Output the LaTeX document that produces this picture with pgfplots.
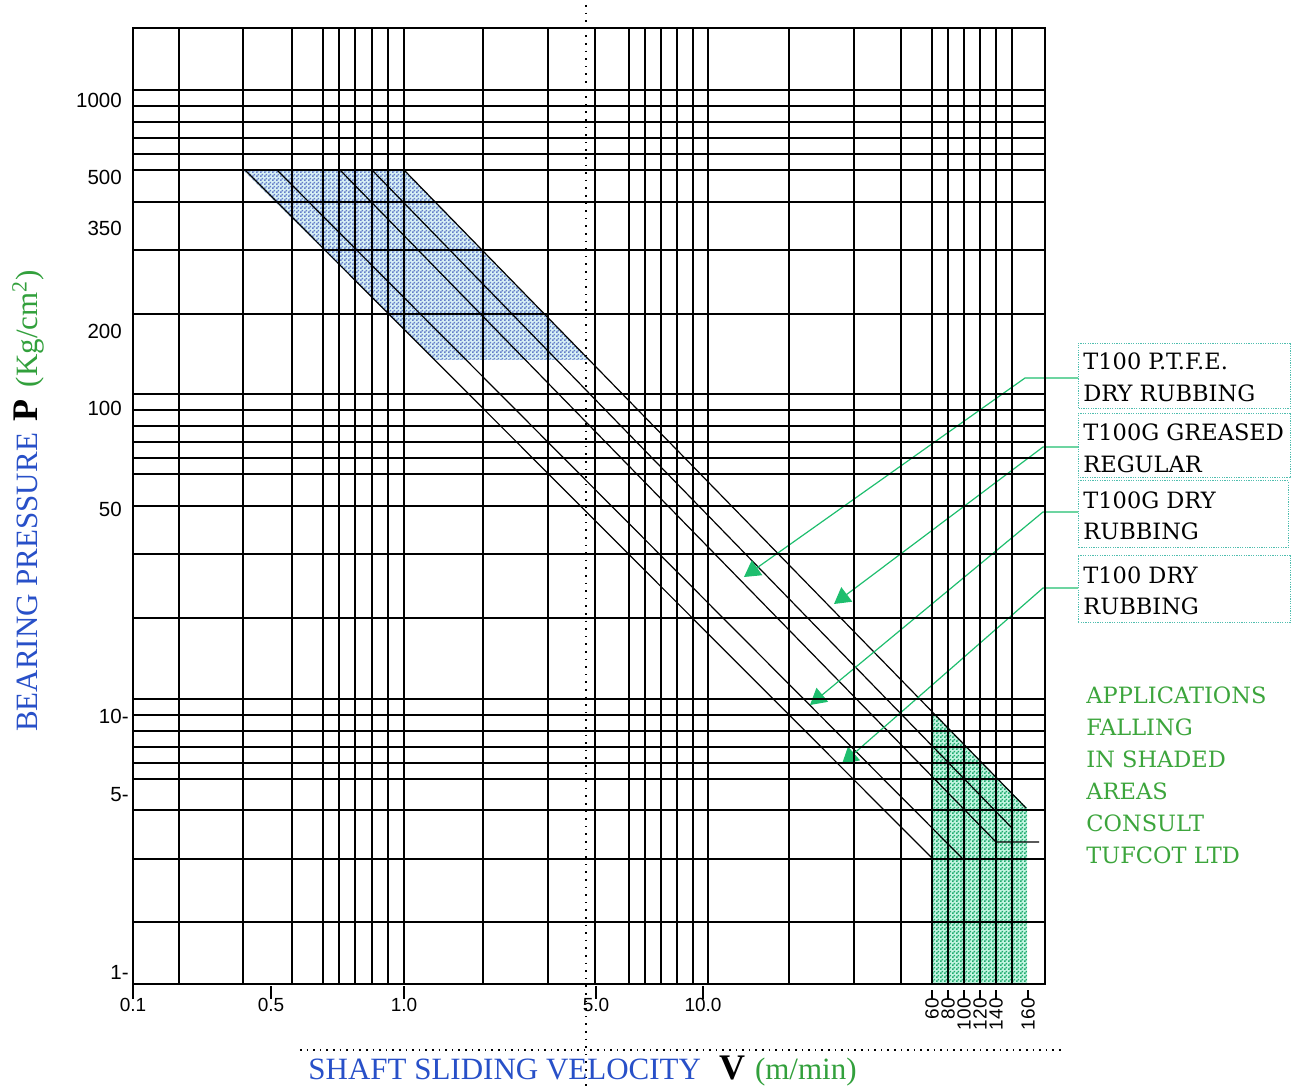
\documentclass[border=0pt]{standalone}
\usepackage{fontspec}
\setmainfont{Liberation Serif}
\newfontfamily\tickfont{Liberation Sans}
\newfontfamily\boxfont{DejaVu Serif}
\usepackage{pgfplots}
\pgfplotsset{compat=1.18}
\usetikzlibrary{arrows.meta,patterns}

\pgfdeclarepatternformonly{finecheck}{\pgfpointorigin}{\pgfpoint{2pt}{2pt}}{\pgfpoint{2pt}{2pt}}{%
  \pgfpathrectangle{\pgfpointorigin}{\pgfpoint{1pt}{1pt}}%
  \pgfpathrectangle{\pgfpoint{1pt}{1pt}}{\pgfpoint{1pt}{1pt}}%
  \pgfusepath{fill}}

\definecolor{bluetxt}{RGB}{40,80,200}
\definecolor{greentxt}{RGB}{50,160,60}
\definecolor{greenlbl}{RGB}{60,165,60}
\definecolor{arrowgreen}{RGB}{30,190,110}
\definecolor{boxteal}{RGB}{80,190,175}
\definecolor{bluechk}{RGB}{100,125,200}
\definecolor{bluebase}{RGB}{215,240,245}
\definecolor{greenchk}{RGB}{30,170,110}
\definecolor{greenbase}{RGB}{195,245,225}

\begin{document}
\begin{tikzpicture}
\begin{axis}[
  scale only axis, width=456pt, height=478pt,
  xmin=133, xmax=1045, ymin=105, ymax=1061,
  enlargelimits=false, clip=false, axis on top,
  axis line style={black, line width=1pt},
  tick pos=left,
  xtick={179,243,292,323,339,355,372,388,404,483,548,595,629,645,661,677,693,708,789,854,901,932,948,964,980,996,1012},
  ytick={167,230,279,310,326,342,358,374,390,471,535,583,615,631,647,663,679,695,775,839,887,919,935,951,967,983,999},
  xticklabel=\empty, yticklabel=\empty,
  major tick length=0pt,
  grid=major, major grid style={black, line width=0.9pt},
  extra x ticks={133,271,404,596,703,932,948,964,980,996,1028},
  extra x tick labels={0.1,0.5,1.0,5.0,10.0,\rotatebox{90}{60},\rotatebox{90}{80},\rotatebox{90}{100},\rotatebox{90}{120},\rotatebox{90}{140},\rotatebox{90}{160}},
  extra x tick style={grid=none, major tick length=0pt,
    tick label style={font=\tickfont\fontsize{9.5pt}{11pt}\selectfont, inner sep=1pt, yshift=-6pt}},
  extra y ticks={989,912,861,758,681,580,373,294,117},
  extra y tick labels={1000\phantom{-},500\phantom{-},350\phantom{-},200\phantom{-},100\phantom{-},50\phantom{-},10-,5-,1-},
  extra y tick style={grid=none, major tick length=0pt,
    tick label style={font=\tickfont\fontsize{10.25pt}{12pt}\selectfont, inner sep=2pt}},
]
% shaded areas
\addplot[draw=none, fill=bluebase] coordinates {(243,919) (404,919) (589,729) (435,729)} -- cycle;
\addplot[draw=none, pattern=finecheck, pattern color=bluechk] coordinates {(243,919) (404,919) (589,729) (435,729)} -- cycle;
\addplot[draw=none, fill=greenbase] coordinates {(932,105) (932,377) (1027,281) (1027,105)} -- cycle;
\addplot[draw=none, pattern=finecheck, pattern color=greenchk] coordinates {(932,105) (932,377) (1027,281) (1027,105)} -- cycle;

% material lines
\addplot[black, line width=0.6pt] coordinates {(245,919) (932,231)};
\addplot[black, line width=0.6pt] coordinates {(277,919) (962,231)};
\addplot[black, line width=0.6pt] coordinates {(340,919) (996,247) (1039,247)};
\addplot[black, line width=0.6pt] coordinates {(372,919) (1011,262)};
\addplot[black, line width=0.6pt] coordinates {(404,919) (1026,281)};

% tick marks below the frame
\addplot[black, line width=0.9pt] coordinates {(133,105) (133,90)};
\addplot[black, line width=0.9pt] coordinates {(271,103) (271,90)};
\addplot[black, line width=0.9pt] coordinates {(404,103) (404,90)};
\addplot[black, line width=0.9pt] coordinates {(596,103) (596,90)};
\addplot[black, line width=0.9pt] coordinates {(703,103) (703,90)};
\addplot[black, line width=0.9pt] coordinates {(932,99) (932,90)};
\addplot[black, line width=0.9pt] coordinates {(948,99) (948,90)};
\addplot[black, line width=0.9pt] coordinates {(964,99) (964,90)};
\addplot[black, line width=0.9pt] coordinates {(980,99) (980,90)};
\addplot[black, line width=0.9pt] coordinates {(996,99) (996,90)};
\addplot[black, line width=0.9pt] coordinates {(1028,99) (1028,90)};

% dotted guide lines
\addplot[black, line width=0.8pt, dash pattern=on 0.8pt off 3pt] coordinates {(586,1084) (586,0)};
\addplot[black, line width=0.8pt, dash pattern=on 0.8pt off 2.5pt] coordinates {(300,39) (1065,39)};

% arrows
\addplot[arrowgreen, line width=0.6pt, -{Triangle[length=8pt,width=9pt]}] coordinates {(1078,711) (1025,711) (744,512)};
\addplot[arrowgreen, line width=0.6pt, -{Triangle[length=8pt,width=9pt]}] coordinates {(1078,642) (1043,642) (834,485)};
\addplot[arrowgreen, line width=0.6pt, -{Triangle[length=8pt,width=9pt]}] coordinates {(1078,577) (1043,577) (810,384)};
\addplot[arrowgreen, line width=0.6pt, -{Triangle[length=8pt,width=9pt]}] coordinates {(1078,501) (1043,501) (842,325)};

% boxes
\addplot[boxteal, line width=0.5pt, dash pattern=on 0.6pt off 0.6pt] coordinates {(1078,745) (1290,745) (1290,680) (1078,680)} -- cycle;
\addplot[boxteal, line width=0.5pt, dash pattern=on 0.6pt off 0.6pt] coordinates {(1078,675) (1290,675) (1290,611) (1078,611)} -- cycle;
\addplot[boxteal, line width=0.5pt, dash pattern=on 0.6pt off 0.6pt] coordinates {(1078,608) (1288,608) (1288,541) (1078,541)} -- cycle;
\addplot[boxteal, line width=0.5pt, dash pattern=on 0.6pt off 0.6pt] coordinates {(1078,533) (1290,533) (1290,466) (1078,466)} -- cycle;

\begin{scope}[every node/.style={anchor=west, inner sep=0pt, font=\boxfont\fontsize{11.25pt}{13pt}\selectfont}]
\node at (axis cs:1083,728) {T100 P.T.F.E.};
\node at (axis cs:1083,696) {DRY RUBBING};
\node at (axis cs:1083,657) {T100G GREASED};
\node at (axis cs:1083,625) {REGULAR};
\node at (axis cs:1083,589) {T100G DRY};
\node at (axis cs:1083,558) {RUBBING};
\node at (axis cs:1083,514) {T100 DRY};
\node at (axis cs:1083,483) {RUBBING};
\node[text=greenlbl] at (axis cs:1086,394) {APPLICATIONS};
\node[text=greenlbl] at (axis cs:1086,362) {FALLING};
\node[text=greenlbl] at (axis cs:1086,330) {IN SHADED};
\node[text=greenlbl] at (axis cs:1086,298) {AREAS};
\node[text=greenlbl] at (axis cs:1086,266) {CONSULT};
\node[text=greenlbl] at (axis cs:1086,234) {TUFCOT LTD};
\end{scope}

% axis titles
\node[anchor=base west, inner sep=0pt, font=\fontsize{15.5pt}{17pt}\selectfont] at (axis cs:308,10)
  {\textcolor{bluetxt}{SHAFT SLIDING VELOCITY}\hspace{9pt}{\fontsize{18pt}{18pt}\selectfont\bfseries V}\hspace{5pt}\textcolor{greentxt}{(m/min)}};
\node[rotate=90, anchor=center, inner sep=0pt, font=\fontsize{15.5pt}{17pt}\selectfont] at (axis cs:28,588)
  {\textcolor{bluetxt}{BEARING PRESSURE}\hspace{6pt}{\fontsize{18pt}{18pt}\selectfont\bfseries P}\hspace{6pt}\textcolor{greentxt}{(Kg/cm\textsuperscript{2})}};

\coordinate (bbSW) at (axis cs:0,0);
\coordinate (bbNE) at (axis cs:1298,1089);
\end{axis}
\pgfresetboundingbox
\useasboundingbox (bbSW) rectangle (bbNE);
\end{tikzpicture}
\end{document}
